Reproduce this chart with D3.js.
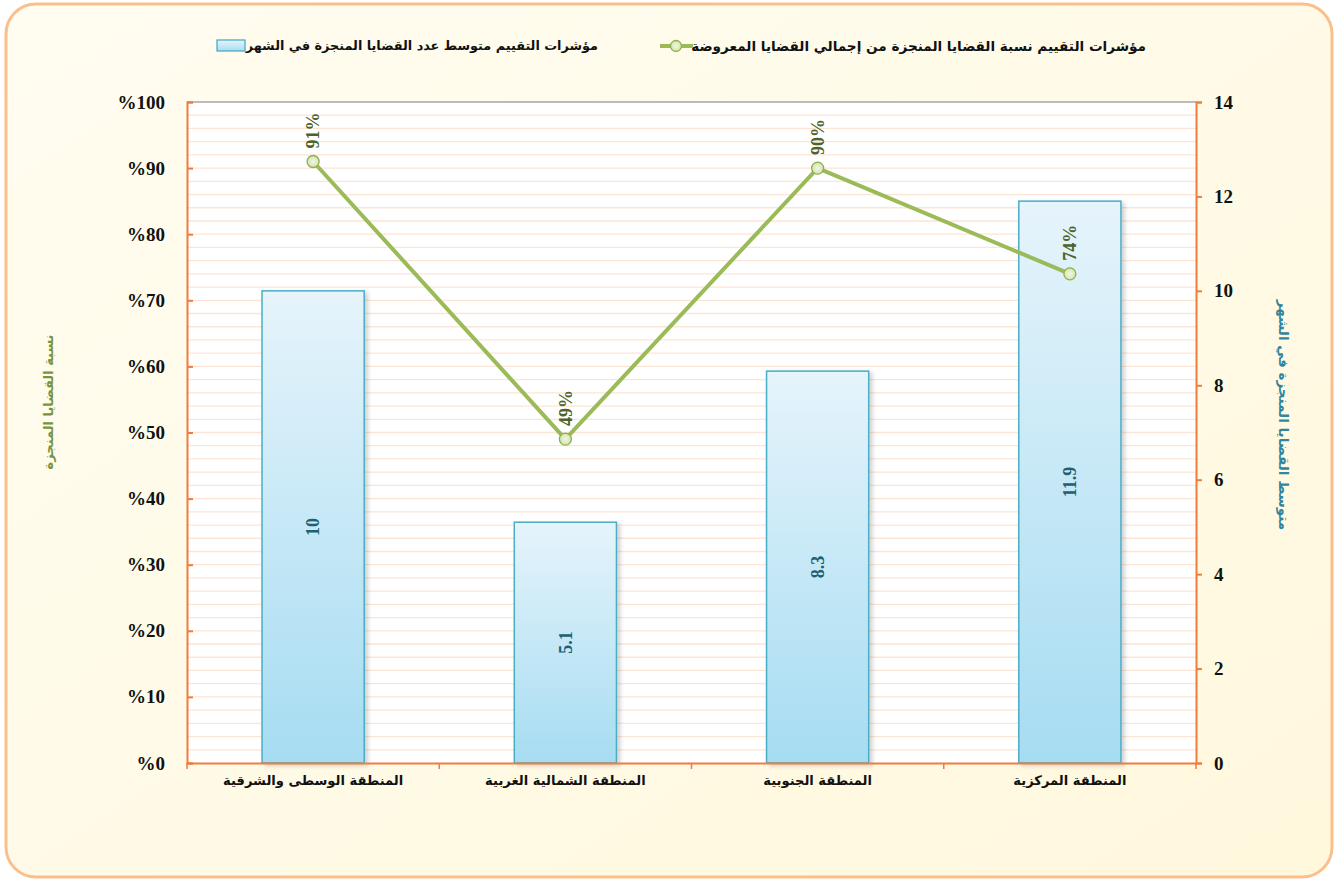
<!DOCTYPE html>
<html lang="ar">
<head>
  <meta charset="UTF-8">
  <title>مؤشرات التقييم</title>
  <script src="https://d3js.org/d3.v7.min.js"></script>
  <style>
    body { margin: 0; background: #fff; }
    svg { display: block; }
  </style>
</head>
<body>
<svg id="chart" width="1338" height="881"></svg>
<script>
  // Données
  const regions = ["المنطقة الوسطى والشرقية", "المنطقة الشمالية الغربية", "المنطقة الجنوبية", "المنطقة المركزية"];
  const avgCases = [10, 5.1, 8.3, 11.9];          // axe droit
  const donePct = [91, 49, 90, 74];               // axe gauche (%)
  const leftTicks = [0, 10, 20, 30, 40, 50, 60, 70, 80, 90, 100];
  const rightTicks = [0, 2, 4, 6, 8, 10, 12, 14];
  const legendLine = "مؤشرات التقييم نسبة القضايا المنجزة من إجمالي القضايا المعروضة";
  const legendBar = "مؤشرات التقييم متوسط عدد القضايا المنجزة في الشهر";
  const leftTitle = "نسبة القضايا المنجزة";
  const rightTitle = "متوسط القضايا المنجزة في الشهر";

  const svg = d3.select("#chart");
  const margin = {top: 102, right: 142, bottom: 118, left: 187};
  const W = 1338, H = 881;
  const width = W - margin.left - margin.right;
  const height = H - margin.top - margin.bottom;
  const arabicFont = "'DejaVu Sans', 'Liberation Sans', sans-serif";

  const defs = svg.append("defs");
  const bg = defs.append("linearGradient").attr("id", "bgGrad")
    .attr("x1", 0).attr("y1", 0).attr("x2", 1).attr("y2", 1);
  bg.append("stop").attr("offset", "0%").attr("stop-color", "#fffdf1");
  bg.append("stop").attr("offset", "100%").attr("stop-color", "#fff8dd");

  const barGrad = defs.append("linearGradient").attr("id", "barGrad")
    .attr("x1", 0).attr("y1", 0).attr("x2", 0).attr("y2", 1);
  barGrad.append("stop").attr("offset", "0%").attr("stop-color", "#e6f4fb");
  barGrad.append("stop").attr("offset", "100%").attr("stop-color", "#a6dcf2");

  const dotGrad = defs.append("radialGradient").attr("id", "dotGrad");
  dotGrad.append("stop").attr("offset", "0%").attr("stop-color", "#f0f6e4");
  dotGrad.append("stop").attr("offset", "100%").attr("stop-color", "#d4e5b0");

  const shadow = defs.append("filter").attr("id", "shadow")
    .attr("x", "-10%").attr("y", "-10%").attr("width", "130%").attr("height", "130%");
  shadow.append("feDropShadow").attr("dx", 3).attr("dy", 2).attr("stdDeviation", 2)
    .attr("flood-color", "#000").attr("flood-opacity", 0.18);

  // Fond
  svg.append("rect")
    .attr("x", 6).attr("y", 4).attr("width", W - 12).attr("height", H - 8)
    .attr("rx", 30).attr("ry", 30)
    .attr("fill", "url(#bgGrad)")
    .attr("stroke", "#fbbf8c").attr("stroke-width", 3);

  const g = svg.append("g").attr("transform", `translate(${margin.left},${margin.top})`);

  // Échelles
  const x = d3.scaleBand().domain(regions).range([0, width]);
  const yL = d3.scaleLinear().domain([0, 100]).range([height, 0]);
  const yR = d3.scaleLinear().domain([0, 14]).range([height, 0]);

  g.append("rect").attr("width", width).attr("height", height).attr("fill", "#fff");

  // Grille (mineure tous les 2%)
  g.append("g").selectAll("line")
    .data(d3.range(2, 100, 2))
    .join("line")
      .attr("x1", 0).attr("x2", width)
      .attr("y1", d => yL(d)).attr("y2", d => yL(d))
      .attr("stroke", "#fde5d6").attr("stroke-width", 1.3);

  g.append("line").attr("x1", 0).attr("x2", width).attr("y1", 0).attr("y2", 0)
    .attr("stroke", "#a6a6a6").attr("stroke-width", 1.5);

  // Barres
  const barW = x.bandwidth() * 0.405;
  g.selectAll(".bar")
    .data(regions)
    .join("rect")
      .attr("class", "bar")
      .attr("x", d => x(d) + (x.bandwidth() - barW) / 2)
      .attr("y", (d, i) => yR(avgCases[i]))
      .attr("width", barW)
      .attr("height", (d, i) => height - yR(avgCases[i]))
      .attr("fill", "url(#barGrad)")
      .attr("stroke", "#4bacc6").attr("stroke-width", 1.5)
      .attr("filter", "url(#shadow)");

  g.selectAll(".barLabel")
    .data(regions)
    .join("text")
      .attr("class", "barLabel")
      .attr("transform", (d, i) => `translate(${x(d) + x.bandwidth() / 2},${(yR(avgCases[i]) + height) / 2}) rotate(-90)`)
      .attr("text-anchor", "middle").attr("dy", "0.35em")
      .attr("font-family", "'Liberation Serif', serif").attr("font-weight", "bold")
      .attr("font-size", 18).attr("fill", "#215f73")
      .text((d, i) => avgCases[i]);

  // Ligne
  const line = d3.line()
    .x((d, i) => x(regions[i]) + x.bandwidth() / 2)
    .y(d => yL(d));
  g.append("path").datum(donePct)
    .attr("d", line).attr("fill", "none")
    .attr("stroke", "#9bbb59").attr("stroke-width", 4).attr("stroke-linejoin", "round");

  g.selectAll(".dot")
    .data(donePct)
    .join("circle")
      .attr("class", "dot")
      .attr("cx", (d, i) => x(regions[i]) + x.bandwidth() / 2)
      .attr("cy", d => yL(d))
      .attr("r", 6)
      .attr("fill", "url(#dotGrad)").attr("stroke", "#8db04a").attr("stroke-width", 1.3);

  g.selectAll(".lineLabel")
    .data(donePct)
    .join("text")
      .attr("class", "lineLabel")
      .attr("transform", (d, i) => `translate(${x(regions[i]) + x.bandwidth() / 2},${yL(d) - 13}) rotate(-90)`)
      .attr("text-anchor", "start").attr("dy", "0.35em")
      .attr("font-family", "'Liberation Serif', serif").attr("font-weight", "bold")
      .attr("font-size", 18).attr("fill", "#4f6228")
      .text(d => d + "%");

  // Axes
  const axisColor = "#f07c3e";
  const leftAxis = g.append("g")
    .call(d3.axisLeft(yL).tickValues(leftTicks).tickSize(-6).tickPadding(22).tickFormat(d => "%" + d));
  const rightAxis = g.append("g").attr("transform", `translate(${width},0)`)
    .call(d3.axisRight(yR).tickValues(rightTicks).tickSize(6).tickPadding(12));
  const bottomAxis = g.append("g").attr("transform", `translate(0,${height})`)
    .call(d3.axisBottom(x).tickSize(0).tickPadding(13));

  // Graduations aux limites des catégories
  g.append("g").selectAll("line")
    .data(d3.range(regions.length + 1))
    .join("line")
      .attr("x1", i => i * x.step()).attr("x2", i => i * x.step())
      .attr("y1", height).attr("y2", height + 6)
      .attr("stroke", axisColor).attr("stroke-width", 1.5);

  [leftAxis, rightAxis, bottomAxis].forEach(a => {
    a.select(".domain").attr("stroke", axisColor).attr("stroke-width", 2);
    a.selectAll(".tick line").attr("stroke", axisColor).attr("stroke-width", 2);
  });
  [leftAxis, rightAxis].forEach(a => {
    a.selectAll(".tick text")
      .attr("font-family", "'Liberation Serif', serif").attr("font-weight", "bold")
      .attr("font-size", 19).attr("fill", "#111");
  });
  leftAxis.selectAll(".tick text").attr("direction", "ltr");
  bottomAxis.selectAll(".tick text")
    .attr("font-family", arabicFont).attr("font-weight", "bold")
    .attr("font-size", 13.1).attr("fill", "#111");

  // Titres d'axes
  svg.append("text")
    .attr("transform", "translate(48,402) rotate(-90)")
    .attr("text-anchor", "middle").attr("dy", "0.35em")
    .attr("font-family", arabicFont).attr("font-weight", "bold")
    .attr("font-size", 13).attr("fill", "#77933c")
    .text(leftTitle);
  svg.append("text")
    .attr("transform", "translate(1284,415) rotate(90)")
    .attr("text-anchor", "middle").attr("dy", "0.35em")
    .attr("font-family", arabicFont).attr("font-weight", "bold")
    .attr("font-size", 13.5).attr("fill", "#31859c")
    .text(rightTitle);

  // Légende
  const legend = svg.append("g")
    .attr("font-family", arabicFont).attr("font-weight", "bold")
    .attr("fill", "#111");
  legend.append("text").attr("x", 1146).attr("y", 46).attr("dy", "0.35em")
    .attr("font-size", 13.6)
    .attr("text-anchor", "end").text(legendLine);
  legend.append("line").attr("x1", 660).attr("x2", 693).attr("y1", 46).attr("y2", 46)
    .attr("stroke", "#9bbb59").attr("stroke-width", 4);
  legend.append("circle").attr("cx", 676).attr("cy", 46).attr("r", 5.5)
    .attr("fill", "url(#dotGrad)").attr("stroke", "#8db04a").attr("stroke-width", 1.3);
  legend.append("text").attr("x", 598).attr("y", 46).attr("dy", "0.35em")
    .attr("font-size", 12.8)
    .attr("text-anchor", "end").text(legendBar);
  legend.append("rect").attr("x", 217).attr("y", 40).attr("width", 28).attr("height", 11)
    .attr("fill", "url(#barGrad)").attr("stroke", "#4bacc6").attr("stroke-width", 1.3);
</script>
</body>
</html>
